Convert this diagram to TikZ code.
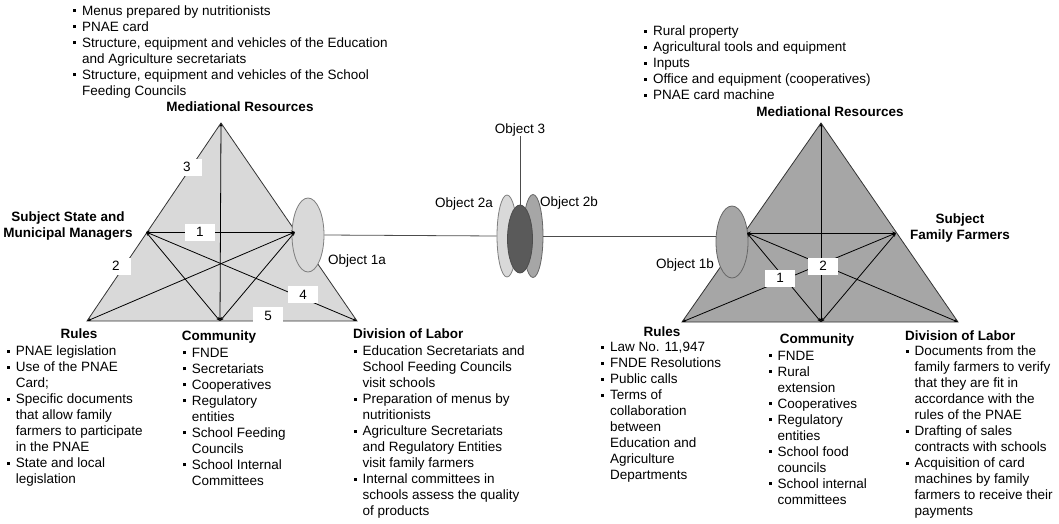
\documentclass[tikz,border=0pt]{standalone}
\usepackage{fontspec}
\setmainfont{Liberation Sans}
\usetikzlibrary{shapes.geometric,arrows.meta}
\definecolor{lightfill}{HTML}{D9D9D9}
\definecolor{midfill}{HTML}{A6A6A6}
\definecolor{darkfill}{HTML}{5A5A5A}
\definecolor{edgegray}{HTML}{7F7F7F}
\newcommand{\bul}{\rule[3pt]{3pt}{3pt}}
\newcommand{\blist}[1]{\begin{tabular}{@{}l@{\hspace{6pt}}l@{}}#1\end{tabular}}
\newcommand{\clines}[1]{\begin{tabular}{@{}c@{}}#1\end{tabular}}
\tikzset{
  txt/.style={inner sep=0pt, font=\fontsize{13.5}{16}\selectfont},
  lbl/.style={inner sep=0pt, font=\fontsize{13.5}{16}\selectfont\bfseries},
  numbox/.style={fill=white, inner sep=0pt, minimum width=30pt, minimum height=17pt, font=\fontsize{13.5}{16}\selectfont},
  link/.style={draw=black, line width=0.8pt, {Stealth[length=4pt,width=3pt]}-{Stealth[length=4pt,width=3pt]}},
  tri/.style={draw=black!80, line width=0.8pt},
  obj/.style={ellipse, draw=edgegray, line width=0.8pt, inner sep=0pt},
  conn/.style={draw=black!70, line width=0.8pt}
}
\begin{document}
\begin{tikzpicture}[x=1pt,y=-1pt]
\useasboundingbox (0,0) rectangle (1059,524);

% ---------- left triangle ----------
\coordinate (LA) at (221,123);
\coordinate (LBL) at (87,321);
\coordinate (LBC) at (220,321);
\coordinate (LBR) at (357,321);
\coordinate (LS) at (146,232);
\coordinate (LO) at (295,232);
\fill[lightfill] (LA) -- (LBL) -- (LBR) -- cycle;
\draw[tri] (LA) -- (LBL) -- (LBR) -- cycle;
\node[obj, fill=lightfill, minimum width=32pt, minimum height=74pt] (O1a) at (308,235) {};
\draw[link] (LA) -- (LBC);
\draw[link] (LS) -- (LO);
\draw[link] (LS) -- (LBR);
\draw[link] (LS) -- (LBC);
\draw[link] (LO) -- (LBL);
\draw[link] (LO) -- (LBC);
\node[numbox] (L1) at (200,232) {1};
\node[numbox] (L2) at (116,266) {2};
\node[numbox] (L3) at (187,167) {3};
\node[numbox] (L4) at (303,294.5) {4};
\node[numbox] (L5) at (268,315.5) {5};

% ---------- right triangle ----------
\coordinate (RA) at (821,123);
\coordinate (RBL) at (682,322);
\coordinate (RBC) at (821,322);
\coordinate (RBR) at (958,322);
\coordinate (RO) at (747,233);
\coordinate (RS) at (896,233);
\fill[midfill] (RA) -- (RBL) -- (RBR) -- cycle;
\draw[tri] (RA) -- (RBL) -- (RBR) -- cycle;
\node[obj, fill=midfill, draw=black!60, minimum width=32pt, minimum height=72pt] (O1b) at (732,242) {};
\draw[link] (RA) -- (RBC);
\draw[link] (RO) -- (RS);
\draw[link] (RO) -- (RBR);
\draw[link] (RO) -- (RBC);
\draw[link] (RS) -- (RBL);
\draw[link] (RS) -- (RBC);
\node[numbox] (R1) at (780,278) {1};
\node[numbox] (R2) at (823,266) {2};

% ---------- central objects ----------
\node[obj, fill=lightfill, minimum width=20pt, minimum height=82pt] (O2a) at (507,236) {};
\node[obj, fill=midfill, draw=black!60, minimum width=20pt, minimum height=83pt] (O2b) at (533,236) {};
\node[obj, fill=darkfill, draw=black!70, minimum width=25pt, minimum height=68pt] (O3) at (520,239) {};
\node[txt, anchor=base] (O3lab) at (520,133) {Object 3};
\draw[conn] (O3lab.south) -- (O3.north);
\draw[conn] (O1a.east) -- (O2a.west);
\draw[conn] (O2b.east) -- (O2b.east -| O1b.west);
\node[txt, anchor=base] (O1alab) at (357,264) {Object 1a};
\node[txt, anchor=base] (O1blab) at (685,268) {Object 1b};
\node[txt, anchor=base] (O2alab) at (464,207) {Object 2a};
\node[txt, anchor=base] (O2blab) at (569,206) {Object 2b};

% ---------- bold labels ----------
\node[lbl, anchor=base] (LMed) at (240,112) {Mediational Resources};
\node[lbl, anchor=north] (LSub) at (68,209.6) {\clines{Subject State and\\Municipal Managers}};
\node[lbl, anchor=base] (LRul) at (79,338.9) {Rules};
\node[lbl, anchor=base] (LCom) at (219,340.5) {Community};
\node[lbl, anchor=base west] (LDiv) at (353,338.9) {Division of Labor};

\node[lbl, anchor=base] (RMed) at (830,116.5) {Mediational Resources};
\node[lbl, anchor=north] (RSub) at (960,211.6) {\clines{Subject\\Family Farmers}};
\node[lbl, anchor=base] (RRul) at (662,336.5) {Rules};
\node[lbl, anchor=base] (RCom) at (817,343) {Community};
\node[lbl, anchor=base west] (RDiv) at (905,340) {Division of Labor};

% ---------- lists ----------
\node[txt, anchor=north west] (LMedList) at (73,3.7) {\blist{%
\bul & Menus prepared by nutritionists\\
\bul & PNAE card\\
\bul & Structure, equipment and vehicles of the Education\\
 & and Agriculture secretariats\\
\bul & Structure, equipment and vehicles of the School\\
 & Feeding Councils}};

\node[txt, anchor=north west] (RMedList) at (644,24.3) {\blist{%
\bul & Rural property\\
\bul & Agricultural tools and equipment\\
\bul & Inputs\\
\bul & Office and equipment (cooperatives)\\
\bul & PNAE card machine}};

\node[txt, anchor=north west] (LRulList) at (6.7,344.3) {\blist{%
\bul & PNAE legislation\\
\bul & Use of the PNAE\\
 & Card;\\
\bul & Specific documents\\
 & that allow family\\
 & farmers to participate\\
 & in the PNAE\\
\bul & State and local\\
 & legislation}};

\node[txt, anchor=north west] (LComList) at (182.7,346) {\blist{%
\bul & FNDE\\
\bul & Secretariats\\
\bul & Cooperatives\\
\bul & Regulatory\\
 & entities\\
\bul & School Feeding\\
 & Councils\\
\bul & School Internal\\
 & Committees}};

\node[txt, anchor=north west] (LDivList) at (353.3,344.3) {\blist{%
\bul & Education Secretariats and\\
 & School Feeding Councils\\
 & visit schools\\
\bul & Preparation of menus by\\
 & nutritionists\\
\bul & Agriculture Secretariats\\
 & and Regulatory Entities\\
 & visit family farmers\\
\bul & Internal committees in\\
 & schools assess the quality\\
 & of products}};

\node[txt, anchor=north west] (RRulList) at (601,340.3) {\blist{%
\bul & Law No. 11,947\\
\bul & FNDE Resolutions\\
\bul & Public calls\\
\bul & Terms of\\
 & collaboration\\
 & between\\
 & Education and\\
 & Agriculture\\
 & Departments}};

\node[txt, anchor=north west] (RComList) at (768.3,348.6) {\blist{%
\bul & FNDE\\
\bul & Rural\\
 & extension\\
\bul & Cooperatives\\
\bul & Regulatory\\
 & entities\\
\bul & School food\\
 & councils\\
\bul & School internal\\
 & committees}};

\node[txt, anchor=north west] (RDivList) at (905.3,344.3) {\blist{%
\bul & Documents from the\\
 & family farmers to verify\\
 & that they are fit in\\
 & accordance with the\\
 & rules of the PNAE\\
\bul & Drafting of sales\\
 & contracts with schools\\
\bul & Acquisition of card\\
 & machines by family\\
 & farmers to receive their\\
 & payments}};
\end{tikzpicture}
\end{document}
